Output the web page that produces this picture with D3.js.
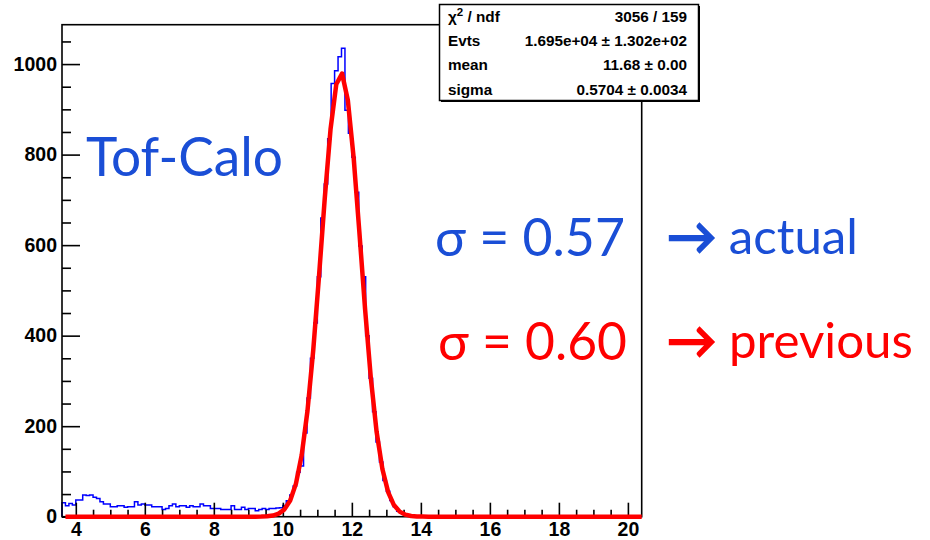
<!DOCTYPE html>
<html>
<head>
<meta charset="utf-8">
<script src="https://cdn.jsdelivr.net/npm/d3@7"></script>
<style>
  html, body { margin: 0; padding: 0; background: #fff; }
  svg { display: block; }
</style>
</head>
<body>
<svg id="chart" width="930" height="540"></svg>
<script>
// Tof-Calo time difference: histogram (bin width 0.1) with a Gaussian fit
const binStart = 3.6;
const binWidth = 0.1;
const counts = [
  31, 24, 29, 26, 37, 37, 48, 47, 48, 43,
  40, 33, 28, 28, 22, 22, 24, 24, 21, 22,
  22, 33, 26, 28, 26, 26, 22, 22, 22, 16,
  18, 24, 28, 22, 24, 24, 21, 24, 22, 22,
  28, 24, 24, 18, 18, 18, 16, 16, 16, 24,
  16, 16, 21, 16, 18, 18, 13, 16, 18, 16,
  18, 18, 19, 20, 25, 35, 48, 68, 98, 112,
  185, 262, 350, 428, 530, 660, 735, 835, 957, 985,
  1016, 1035, 898, 847, 794, 717, 598, 530, 400, 306,
  232, 165, 121, 80, 56, 36, 22, 12, 8, 4,
  2, 1
];

const xDomain = [3.6, 20.4];
const yDomain = [0, 1087];
const xMajorTicks = [4, 6, 8, 10, 12, 14, 16, 18, 20];
const yMajorTicks = [0, 200, 400, 600, 800, 1000];

// Fit result
const fitMean = 11.68;
const fitSigma = 0.5704;
const fitPeak = 981;
const fitRange = [3.7, 20.4];
const fitPoints = 100;

const statsLabels = ["χ2 / ndf", "Evts", "mean", "sigma"];
const statsValues = ["3056 / 159", "1.695e+04 \u00b1 1.302e+02", "11.68 \u00b1 0.00", "0.5704 \u00b1 0.0034"];

const annotations = [
  { text: "Tof-Calo",  x: 86,  y: 176, w: 197, color: "#1a4ed6" },
  { text: "\u03c3 = 0.57", x: 435, y: 256, w: 190, color: "#1a4ed6" },
  { arrow: true, text: "actual",   x: 667, y: 254, w: 191, color: "#1a4ed6" },
  { text: "\u03c3 = 0.60", x: 438, y: 360, w: 189, color: "#ff0000" },
  { arrow: true, text: "previous", x: 667, y: 358, w: 246, color: "#ff0000" }
];

const svg = d3.select("#chart");
const frame = { left: 62, right: 641.7, top: 24.7, bottom: 516.7 };

const x = d3.scaleLinear().domain(xDomain).range([frame.left, frame.right]);
const y = d3.scaleLinear().domain(yDomain).range([frame.bottom, frame.top]);

const axisFont = "'Liberation Sans', Arial, Helvetica, sans-serif";

// Histogram outline (step line)
const histPts = [[binStart, 0]];
counts.forEach((c, i) => {
  const x0 = binStart + i * binWidth;
  histPts.push([x0, c], [x0 + binWidth, c]);
});
histPts.push([binStart + counts.length * binWidth, 0], [xDomain[1], 0]);

svg.append("path")
  .datum(histPts)
  .attr("fill", "none")
  .attr("stroke", "#0000ff")
  .attr("stroke-width", 1.5)
  .attr("d", d3.line().x(d => x(d[0])).y(d => y(d[1])));

// Axes: minor ticks first, then labelled major ticks
const xMinor = d3.range(4, 20.01, 0.5).filter(v => !xMajorTicks.includes(v));
const yMinor = d3.range(0, 1051, 50).filter(v => !yMajorTicks.includes(v));

function styleAxis(g) {
  g.select(".domain").remove();
  g.selectAll(".tick line").attr("stroke", "#000").attr("stroke-width", 1.6);
  g.selectAll("text")
    .attr("fill", "#000")
    .style("font-family", axisFont)
    .style("font-weight", "bold")
    .style("font-size", "19.5px");
}

svg.append("g")
  .attr("transform", `translate(0,${frame.bottom})`)
  .call(d3.axisBottom(x).tickValues(xMinor).tickSizeInner(-7).tickSizeOuter(0).tickFormat(""))
  .call(styleAxis);
svg.append("g")
  .attr("transform", `translate(0,${frame.bottom})`)
  .call(d3.axisBottom(x).tickValues(xMajorTicks).tickSizeInner(-14).tickSizeOuter(0).tickPadding(5).tickFormat(d3.format("d")))
  .call(styleAxis);

svg.append("g")
  .attr("transform", `translate(${frame.left},0)`)
  .call(d3.axisLeft(y).tickValues(yMinor).tickSizeInner(-9).tickSizeOuter(0).tickFormat(""))
  .call(styleAxis);
svg.append("g")
  .attr("transform", `translate(${frame.left},0)`)
  .call(d3.axisLeft(y).tickValues(yMajorTicks).tickSizeInner(-18).tickSizeOuter(0).tickPadding(5).tickFormat(d3.format("d")))
  .call(styleAxis);

// Frame
svg.append("rect")
  .attr("x", frame.left).attr("y", frame.top)
  .attr("width", frame.right - frame.left).attr("height", frame.bottom - frame.top)
  .attr("fill", "none").attr("stroke", "#000").attr("stroke-width", 1.6);

// Gaussian fit curve
const step = (fitRange[1] - fitRange[0]) / fitPoints;
const fitCurve = d3.range(fitPoints + 1).map(i => {
  const xv = fitRange[0] + i * step;
  return [xv, fitPeak * Math.exp(-0.5 * Math.pow((xv - fitMean) / fitSigma, 2))];
});
svg.append("path")
  .datum(fitCurve)
  .attr("fill", "none")
  .attr("stroke", "#ff0000")
  .attr("stroke-width", 4.5)
  .attr("stroke-linejoin", "round")
  .attr("d", d3.line().x(d => x(d[0])).y(d => y(d[1])));

// Statistics box
const box = { x: 439.5, y: 4.5, w: 259, h: 96 };
svg.append("rect")
  .attr("x", box.x + 1.5).attr("y", box.y + 1.5)
  .attr("width", box.w).attr("height", box.h)
  .attr("fill", "#000");
svg.append("rect")
  .attr("x", box.x).attr("y", box.y)
  .attr("width", box.w).attr("height", box.h)
  .attr("fill", "#fff").attr("stroke", "#000").attr("stroke-width", 1.5);

const statsFont = 15.3;
const rowBase = [21.5, 46, 70.2, 94.5];
statsLabels.forEach((lab, i) => {
  const t = svg.append("text")
    .attr("x", 448).attr("y", rowBase[i])
    .style("font-family", axisFont)
    .style("font-weight", "bold")
    .style("font-size", statsFont + "px");
  if (i === 0) {
    t.append("tspan").text("\u03c7");
    t.append("tspan").attr("dy", -6).style("font-size", "11.5px").text("2");
    t.append("tspan").attr("dy", 6).text(" / ndf");
  } else {
    t.text(lab);
  }
  const v = svg.append("text")
    .attr("x", 687).attr("y", rowBase[i])
    .attr("text-anchor", "end")
    .style("font-family", axisFont)
    .style("font-weight", "bold")
    .style("font-size", statsFont + "px")
    .text(statsValues[i]);
  // keep the long value line within its column
  const vw = v.node().getComputedTextLength();
  if (vw > 163) v.attr("textLength", 163).attr("lengthAdjust", "spacingAndGlyphs");
});

// Large annotations, sized to their spans
annotations.forEach(a => {
  const t = svg.append("text")
    .attr("x", a.x).attr("y", a.y)
    .attr("fill", a.color)
    .style("font-family", "Lato, 'Open Sans', 'Noto Sans', sans-serif")
    .style("font-size", "50px");
  if (a.arrow) {
    t.append("tspan")
      .attr("stroke", a.color).attr("stroke-width", 2.2)
      .text("\u2192");
    t.append("tspan").text(" " + a.text);
  } else {
    t.text(a.text);
  }
  const w = t.node().getComputedTextLength();
  if (w > 0) t.style("font-size", (50 * a.w / w).toFixed(2) + "px");
});
</script>
</body>
</html>
